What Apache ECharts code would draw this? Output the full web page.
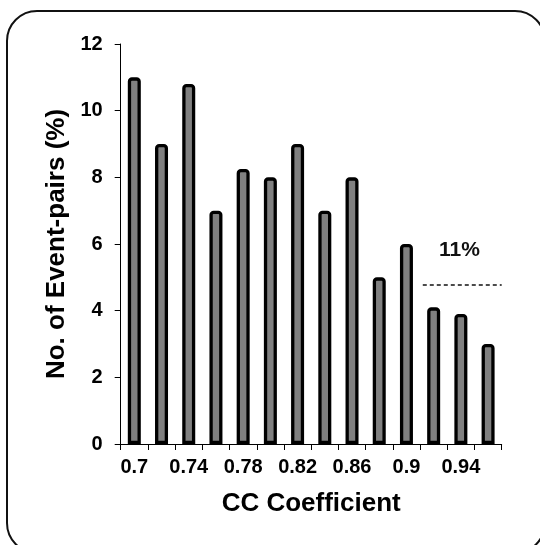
<!DOCTYPE html>
<html>
<head>
<meta charset="utf-8">
<style>html,body{margin:0;padding:0;background:#fff;}#c{width:540px;height:545px;}</style>
<script src="https://cdn.jsdelivr.net/npm/echarts@6/dist/echarts.min.js"></script>
</head>
<body>
<div id="c"></div>
<script>
var categories = ['0.7','0.72','0.74','0.76','0.78','0.8','0.82','0.84','0.86','0.88','0.9','0.92','0.94','0.96'];
var values = [11, 9, 10.8, 7, 8.25, 8, 9, 7, 8, 5, 6, 4.1, 3.9, 3];
var dashedLine = [[0.912, 4.77], [0.97, 4.77]];
var noteText = '11%';
var notePoint = [[0.939, 5.8]];
var xTitle = 'CC Coefficient';
var yTitle = 'No. of Event-pairs (%)';

var FONT = '"Liberation Sans", Arial, sans-serif';
var chart = echarts.init(document.getElementById('c'), null, {renderer: 'canvas'});
chart.setOption({
  animation: false,
  backgroundColor: '#fff',
  graphic: [{
    type: 'rect', z: -10,
    shape: {x: 7, y: 11, width: 538, height: 542, r: 30},
    style: {fill: 'none', stroke: '#111', lineWidth: 2}
  }],
  grid: {left: 120.7, right: 38.3, top: 44, bottom: 101},
  xAxis: [{
    type: 'category',
    data: categories,
    boundaryGap: true,
    axisLine: {lineStyle: {color: '#000', width: 1}},
    axisTick: {show: true, interval: 0, length: 6, lineStyle: {color: '#000'}},
    axisLabel: {interval: 1, margin: 13, fontFamily: FONT, fontWeight: 'bold', fontSize: 20, color: '#000'},
    name: xTitle,
    nameLocation: 'middle',
    nameGap: 47,
    nameTextStyle: {fontFamily: FONT, fontWeight: 'bold', fontSize: 26, color: '#000'}
  }, {
    type: 'value', min: 0.69, max: 0.97, show: false
  }],
  yAxis: {
    type: 'value', min: 0, max: 12, interval: 2,
    splitLine: {show: false},
    axisLine: {show: true, lineStyle: {color: '#000', width: 1}},
    axisTick: {show: true, length: 6, lineStyle: {color: '#000'}},
    axisLabel: {margin: 18, fontFamily: FONT, fontWeight: 'bold', fontSize: 20, color: '#000'},
    name: yTitle,
    nameLocation: 'middle',
    nameGap: 50,
    nameTextStyle: {fontFamily: FONT, fontWeight: 'bold', fontSize: 26, color: '#000'}
  },
  series: [{
    type: 'bar',
    data: values,
    barWidth: 13,
    itemStyle: {color: '#808080', borderColor: '#000', borderWidth: 3.3, borderRadius: [2.5, 2.5, 0, 0]}
  }, {
    type: 'line',
    xAxisIndex: 1,
    data: dashedLine,
    symbol: 'none',
    lineStyle: {color: '#111', width: 1.3, opacity: 1, type: [4, 3]}
  }, {
    type: 'scatter',
    xAxisIndex: 1,
    data: notePoint,
    symbolSize: 0,
    itemStyle: {opacity: 1},
    label: {show: true, position: 'inside', formatter: noteText, fontFamily: FONT, fontWeight: 'bold', fontSize: 21, color: '#111', opacity: 1}
  }]
});
</script>
</body>
</html>
